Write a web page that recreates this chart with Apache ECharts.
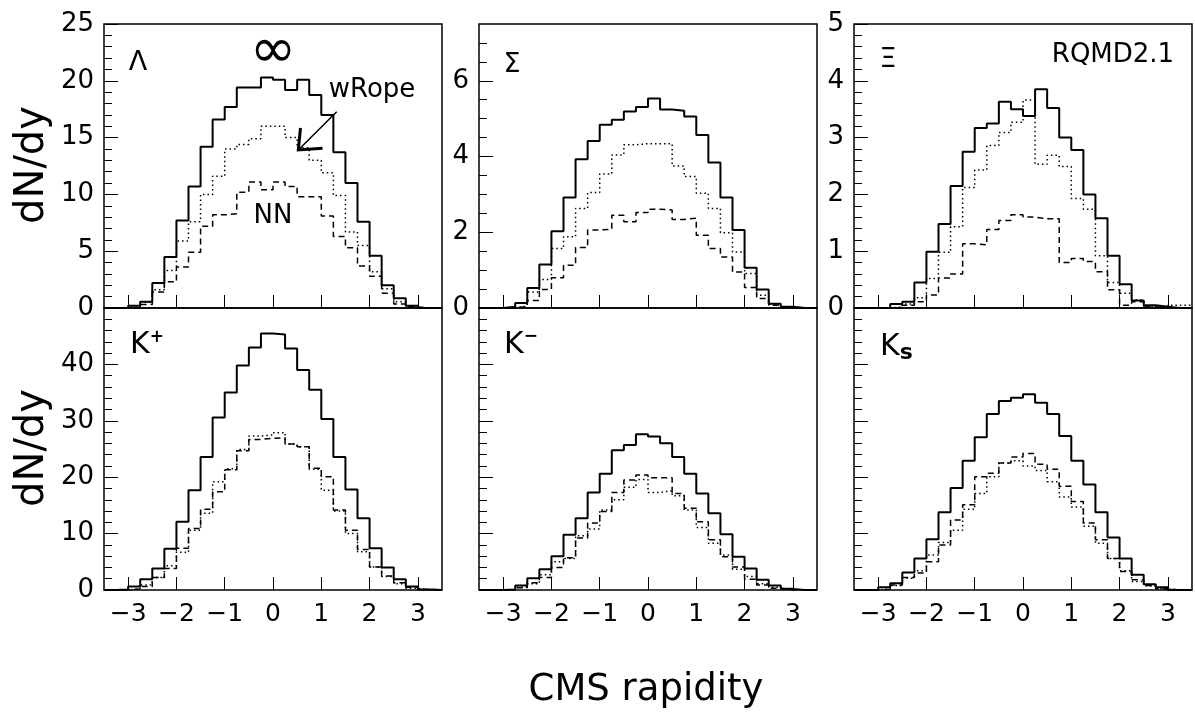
<!DOCTYPE html>
<html>
<head>
<meta charset="utf-8">
<script src="https://cdn.jsdelivr.net/npm/echarts@6/dist/echarts.min.js"></script>
<style>
  html, body { margin: 0; padding: 0; background: #fff; }
  #chart { width: 1195px; height: 719px; }
</style>
</head>
<body>
<div id="chart"></div>
<script>
// bins of 0.25 in CMS rapidity, left edges from -3.5 to 3.25
var binStart = -3.5;
var binWidth = 0.25;

// Lambda
var lambdaInf  = [0, 0, 0.2, 0.55, 2.2, 4.5, 7.7, 10.7, 14.2, 16.6, 17.7, 19.4, 19.4, 20.3, 20.1, 19.2, 20.1, 18.75, 17.0, 13.7, 11.0, 7.6, 4.6, 2.0, 0.85, 0.2, 0, 0];
var lambdaRope = [0, 0, 0.1, 0.5, 1.6, 3.3, 5.9, 7.6, 10.0, 11.6, 14.0, 14.4, 14.9, 16.0, 16.0, 15.0, 14.1, 13.0, 11.9, 9.9, 6.7, 5.5, 3.2, 1.7, 0.55, 0.2, 0, 0];
var lambdaNN   = [0, 0, 0, 0.3, 1.4, 2.3, 3.6, 4.9, 7.2, 8.2, 8.3, 10.2, 11.1, 10.4, 11.1, 10.7, 9.8, 9.8, 8.1, 6.3, 5.3, 3.7, 2.8, 1.3, 0.35, 0.1, 0, 0];

// Sigma
var sigmaInf  = [0, 0, 0.03, 0.13, 0.53, 1.15, 2.03, 2.92, 3.93, 4.41, 4.84, 4.97, 5.19, 5.31, 5.53, 5.24, 5.21, 5.06, 4.57, 3.84, 2.92, 2.06, 1.06, 0.49, 0.11, 0.03, 0, 0];
var sigmaRope = [0, 0, 0, 0.05, 0.42, 0.75, 1.57, 1.88, 2.63, 3.05, 3.54, 4.04, 4.31, 4.34, 4.34, 4.34, 3.75, 3.47, 3.03, 2.63, 1.99, 1.48, 0.91, 0.34, 0.1, 0.02, 0, 0];
var sigmaNN   = [0, 0, 0, 0.04, 0.2, 0.49, 0.8, 1.13, 1.6, 2.06, 2.08, 2.45, 2.28, 2.52, 2.61, 2.59, 2.34, 2.37, 1.92, 1.57, 1.35, 0.95, 0.54, 0.25, 0.07, 0, 0, 0];

// Xi
var xiInf  = [0, 0, 0, 0.07, 0.11, 0.45, 0.99, 1.48, 2.15, 2.75, 3.17, 3.25, 3.63, 3.5, 3.38, 3.85, 3.52, 3.0, 2.78, 2.0, 1.58, 0.92, 0.42, 0.13, 0.05, 0.02, 0, 0];
var xiRope = [0, 0, 0, 0.02, 0.07, 0.18, 0.52, 0.98, 1.43, 2.12, 2.43, 2.86, 3.09, 3.27, 3.66, 2.53, 2.69, 2.49, 1.93, 1.74, 0.92, 0.45, 0.26, 0.14, 0.02, 0, 0.05, 0.05];
var xiNN   = [0, 0, 0, 0, 0.05, 0.11, 0.23, 0.53, 0.6, 1.13, 1.11, 1.38, 1.54, 1.64, 1.6, 1.57, 1.57, 0.8, 0.87, 0.82, 0.64, 0.32, 0.05, 0.11, 0.02, 0, 0, 0];

// K+
var kplusInf  = [0, 0.1, 0.6, 1.9, 3.8, 7.3, 12.1, 17.7, 23.6, 30.6, 35.0, 39.8, 43.0, 45.5, 45.3, 42.8, 39.0, 35.5, 30.3, 23.6, 17.8, 12.7, 7.4, 4.0, 1.9, 0.6, 0.1, 0];
var kplusRope = [0, 0, 0.25, 0.9, 2.2, 4.3, 6.7, 10.6, 13.6, 19.2, 21.5, 24.9, 27.3, 27.5, 27.9, 25.9, 25.4, 21.4, 17.7, 14.0, 10.0, 6.8, 4.1, 2.4, 1.1, 0.3, 0, 0];
var kplusNN   = [0, 0, 0.2, 0.6, 2.2, 3.8, 7.4, 10.9, 14.3, 17.4, 21.3, 24.7, 26.7, 26.9, 27.0, 25.9, 25.4, 21.6, 20.1, 14.2, 10.6, 7.2, 4.1, 2.5, 1.3, 0.5, 0.1, 0];

// K-
var kminusInf  = [0, 0, 0.1, 0.8, 2.1, 3.7, 6.0, 9.8, 12.7, 17.3, 20.6, 24.8, 25.7, 27.6, 27.2, 26.0, 23.6, 20.6, 17.1, 13.6, 9.9, 5.9, 3.8, 1.8, 0.8, 0.2, 0, 0];
var kminusRope = [0, 0, 0, 0.5, 1.1, 2.7, 5.0, 5.6, 9.6, 10.8, 14.2, 16.0, 18.2, 19.6, 17.3, 17.6, 16.7, 14.2, 11.1, 8.3, 6.2, 3.7, 2.4, 1.1, 0.5, 0.1, 0, 0];
var kminusNN   = [0, 0, 0, 0.4, 1.3, 2.2, 4.0, 5.7, 9.2, 11.9, 13.9, 17.3, 19.5, 20.4, 19.9, 19.9, 17.1, 14.5, 12.1, 8.9, 5.9, 4.1, 1.9, 0.9, 0.3, 0, 0, 0];

// K short
var kshortInf  = [0, 0, 0.5, 1.2, 3.1, 5.6, 9.0, 13.8, 18.1, 22.9, 27.1, 31.2, 33.5, 34.1, 34.7, 33.2, 31.2, 27.3, 22.9, 18.7, 13.8, 9.3, 5.6, 2.7, 1.0, 0.5, 0, 0];
var kshortRope = [0, 0, 0.2, 0.8, 2.1, 3.4, 6.2, 8.4, 10.6, 14.3, 17.1, 20.1, 22.5, 22.9, 22.0, 21.2, 19.2, 16.5, 14.7, 11.3, 8.3, 5.6, 3.4, 1.5, 0.7, 0.2, 0, 0];
var kshortNN   = [0, 0, 0.1, 0.9, 2.2, 3.0, 5.0, 8.0, 12.4, 15.1, 20.1, 20.7, 22.5, 23.6, 24.2, 22.3, 21.4, 18.4, 15.7, 11.9, 8.9, 5.6, 3.3, 1.8, 0.8, 0.2, 0, 0];

// axis ticks
var xTicks = [-3, -2, -1, 0, 1, 2, 3];
var lambdaMajor = [0, 5, 10, 15, 20, 25];
var lambdaMinor = [1, 2, 3, 4, 6, 7, 8, 9, 11, 12, 13, 14, 16, 17, 18, 19, 21, 22, 23, 24];
var sigmaMajor = [0, 2, 4, 6];
var sigmaMinor = [0.5, 1, 1.5, 2.5, 3, 3.5, 4.5, 5, 5.5, 6.5, 7];
var xiMajor = [0, 1, 2, 3, 4, 5];
var xiMinor = [0.2, 0.4, 0.6, 0.8, 1.2, 1.4, 1.6, 1.8, 2.2, 2.4, 2.6, 2.8, 3.2, 3.4, 3.6, 3.8, 4.2, 4.4, 4.6, 4.8];
var kMajor = [0, 10, 20, 30, 40];
var kMinor = [2, 4, 6, 8, 12, 14, 16, 18, 22, 24, 26, 28, 32, 34, 36, 38, 42, 44, 46, 48];

var FONT = '"DejaVu Sans", "Liberation Sans", sans-serif';

var panels = [
  { left: 104, top: 24, height: 284, ymax: 25,  major: lambdaMajor, minor: lambdaMinor, labels: true,  xlabels: false, sets: [lambdaInf, lambdaRope, lambdaNN] },
  { left: 479, top: 24, height: 284, ymax: 7.5, major: sigmaMajor,  minor: sigmaMinor,  labels: true,  xlabels: false, sets: [sigmaInf, sigmaRope, sigmaNN] },
  { left: 854, top: 24, height: 284, ymax: 5,   major: xiMajor,     minor: xiMinor,     labels: true,  xlabels: false, sets: [xiInf, xiRope, xiNN] },
  { left: 104, top: 308, height: 282, ymax: 50, major: kMajor,      minor: kMinor,      labels: true,  xlabels: true,  sets: [kplusInf, kplusRope, kplusNN] },
  { left: 479, top: 308, height: 282, ymax: 50, major: kMajor,      minor: kMinor,      labels: false, xlabels: true,  sets: [kminusInf, kminusRope, kminusNN] },
  { left: 854, top: 308, height: 282, ymax: 50, major: kMajor,      minor: kMinor,      labels: false, xlabels: true,  sets: [kshortInf, kshortRope, kshortNN] }
];

var lineStyles = [
  { color: '#000', width: 2, type: 'solid' },
  { color: '#000', width: 1.5, type: [1.5, 3] },
  { color: '#000', width: 1.5, type: [6, 4] }
];

function toSteps(values) {
  var pts = values.map(function (v, i) { return [binStart + i * binWidth, v]; });
  pts.push([binStart + values.length * binWidth, values[values.length - 1]]);
  return pts;
}

function minusFmt(v) {
  return v < 0 ? '\u2212' + (-v) : String(v);
}

var grids = [], xAxes = [], yAxes = [], series = [];
panels.forEach(function (p, gi) {
  grids.push({
    left: p.left, top: p.top, width: 338, height: p.height,
    show: true, borderColor: '#000', borderWidth: 1.5, backgroundColor: 'transparent'
  });
  xAxes.push({
    type: 'value', gridIndex: gi, min: -3.5, max: 3.5, position: 'bottom',
    axisLine: { show: false, onZero: false },
    splitLine: { show: false },
    axisTick: { show: true, inside: true, length: 13, customValues: xTicks, lineStyle: { color: '#000', width: 1 } },
    axisLabel: { show: p.xlabels, customValues: xTicks, formatter: minusFmt, margin: 12,
                 color: '#000', fontSize: 25, fontFamily: FONT }
  });
  yAxes.push({
    type: 'value', gridIndex: gi, min: 0, max: p.ymax, position: 'left',
    axisLine: { show: false, onZero: false },
    splitLine: { show: false },
    axisTick: { show: true, inside: true, length: 14, customValues: p.major, lineStyle: { color: '#000', width: 1 } },
    axisLabel: { show: p.labels, customValues: p.major, margin: 10, color: '#000', fontSize: 26, fontFamily: FONT }
  });
  yAxes.push({
    type: 'value', gridIndex: gi, min: 0, max: p.ymax, position: 'left', offset: 0,
    axisLine: { show: false, onZero: false },
    splitLine: { show: false },
    axisTick: { show: true, inside: true, length: 8, customValues: p.minor, lineStyle: { color: '#000', width: 1 } },
    axisLabel: { show: false }
  });
  p.sets.forEach(function (vals, k) {
    series.push({
      type: 'line', xAxisIndex: gi, yAxisIndex: gi * 2, step: 'end',
      symbol: 'none', silent: true, animation: false,
      data: toSteps(vals),
      lineStyle: lineStyles[k]
    });
  });
});

function txt(x, y, text, size) {
  return { type: 'text', z: 100,
           style: { x: x, y: y, text: text, fontSize: size, fontFamily: FONT, fill: '#000',
                    textAlign: 'center', textVerticalAlign: 'middle' } };
}

function vtxt(x, y, text, size) {
  return { type: 'text', z: 100, x: x, y: y, rotation: Math.PI / 2,
           style: { x: 0, y: 0, text: text, fontSize: size, fontFamily: FONT, fill: '#000',
                    textAlign: 'center', textVerticalAlign: 'middle' } };
}

var graphics = [
  vtxt(33, 165, 'dN/dy', 40),
  vtxt(33, 448, 'dN/dy', 40),
  txt(646, 690, 'CMS rapidity', 37),
  txt(138, 63, '\u039B', 27),
  txt(512, 65, '\u03A3', 27),
  txt(888, 60, '\u039E', 27),
  txt(273, 52, '\u221E', 56),
  txt(372, 90, 'wRope', 26),
  txt(273, 216, 'NN', 26),
  txt(1113, 55, 'RQMD2.1', 26),
  {
    type: 'text', z: 100,
    style: { x: 130, y: 345, textVerticalAlign: 'middle', fontFamily: FONT, fill: '#000',
             text: '{b|K}{s|+}', rich: { b: { fontSize: 30, fontFamily: FONT }, s: { fontSize: 17, fontWeight: 'bold', fontFamily: FONT, padding: [0, 0, 14, 0] } } }
  },
  {
    type: 'text', z: 100,
    style: { x: 504, y: 345, textVerticalAlign: 'middle', fontFamily: FONT, fill: '#000',
             text: '{b|K}{s|\u2212}', rich: { b: { fontSize: 30, fontFamily: FONT }, s: { fontSize: 17, fontWeight: 'bold', fontFamily: FONT, padding: [0, 0, 16, 0] } } }
  },
  {
    type: 'text', z: 100,
    style: { x: 880, y: 347, textVerticalAlign: 'middle', fontFamily: FONT, fill: '#000',
             text: '{b|K}{s|s}', rich: { b: { fontSize: 30, fontFamily: FONT }, s: { fontSize: 22, fontWeight: 'bold', fontFamily: FONT, padding: [12, 0, 0, 0] } } }
  },
  // arrow from wRope label down to the dotted curve
  { type: 'line', z: 100, shape: { x1: 336.7, y1: 111.7, x2: 298.3, y2: 150 }, style: { stroke: '#000', lineWidth: 1.5 } },
  { type: 'polyline', z: 100, shape: { points: [[300.5, 128], [298.3, 150], [322.5, 148.3]] }, style: { stroke: '#000', lineWidth: 3, fill: null } }
];

var chart = echarts.init(document.getElementById('chart'), null, { renderer: 'canvas' });
chart.setOption({
  backgroundColor: '#fff',
  animation: false,
  grid: grids,
  xAxis: xAxes,
  yAxis: yAxes,
  series: series,
  graphic: graphics
});
</script>
</body>
</html>
